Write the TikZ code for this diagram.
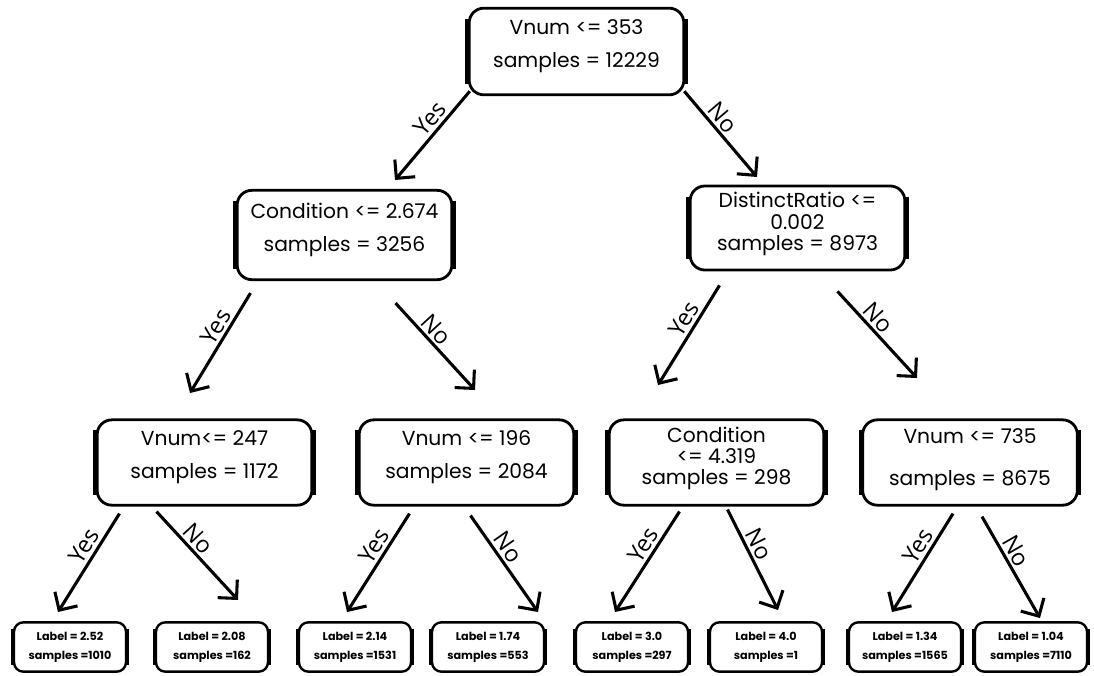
\documentclass[tikz,border=0pt]{standalone}
\usepackage{fontspec}
\setmainfont{Poppins}
\newfontfamily\edgefont{Open Sans}
\usetikzlibrary{arrows.meta}

\begin{document}
\begin{tikzpicture}[x=0.75pt, y=-0.75pt]
\tikzstyle{v} = [draw=black, line width=2.1pt, rounded corners=11pt, align=center, minimum width=161pt, minimum height=64pt, font=\fontsize{15.2}{16}\selectfont]
\tikzstyle{leaf} = [v, line width=1.8pt, rounded corners=7pt, minimum width=84pt, minimum height=37pt, font=\fontsize{8.4}{10}\selectfont\bfseries]
\tikzstyle{e} = [draw=black, line width=2.3pt, -{Straight Barb[length=10pt, width=20pt]}]
\tikzstyle{ans} = [sloped, above, pos=0.4, inner sep=2pt, font=\edgefont\fontsize{17.5}{18}\selectfont]

\useasboundingbox (0,0) rectangle (1094,675);

\node[v, minimum height=65pt] (root) at (576.5, 51.5) {Vnum <= 353\\[9pt]samples = 12229\\[-4pt]};
\node[v, minimum height=67pt] (cond) at (344.5, 235) {Condition <= 2.674\\[9pt]samples = 3256\\[-4pt]};
\node[v, minimum height=63pt] (dist) at (797.5, 228) {DistinctRatio <=\\0.002\\samples = 8973\\[-6pt]};
\node[v] (v247) at (204.5, 462.5) {Vnum<= 247\\[9pt]samples = 1172\\[-4pt]};
\node[v] (v196) at (466.5, 462.5) {Vnum <= 196\\[9pt]samples = 2084\\[-4pt]};
\node[v] (c4319) at (716.5, 462.5) {Condition\\<= 4.319\\samples = 298\\[-6pt]};
\node[v] (v735) at (970, 462.5) {Vnum <= 735\\[16pt]samples = 8675\\[-8pt]};

\node[leaf] (l1) at (70, 647) {Label = 2.52\\[4pt]samples =1010};
\node[leaf] (l2) at (212, 647) {Label = 2.08\\[4pt]samples =162};
\node[leaf] (l3) at (355, 647) {Label = 2.14\\[4pt]samples =1531};
\node[leaf] (l4) at (488, 647) {Label = 1.74\\[4pt]samples =553};
\node[leaf] (l5) at (632, 647) {Label = 3.0\\[4pt]samples =297};
\node[leaf] (l6) at (766, 647) {Label = 4.0\\[4pt]samples =1};
\node[leaf] (l7) at (905, 647) {Label = 1.34\\[4pt]samples =1565};
\node[leaf] (l8) at (1031, 647) {Label = 1.04\\[4pt]samples =7110};

% heavier sides of the boxes
\foreach \n in {root, cond, dist, v247, v196, c4319, v735} {
  \draw[line width=3.6pt] ([yshift=-9pt]\n.north west) -- ([yshift=9pt]\n.south west);
  \draw[line width=3.6pt] ([yshift=-9pt]\n.north east) -- ([yshift=9pt]\n.south east);
}
\foreach \n in {l1, l2, l3, l4, l5, l6, l7, l8} {
  \draw[line width=3pt] ([yshift=-6pt]\n.north west) -- ([yshift=6pt]\n.south west);
  \draw[line width=3pt] ([yshift=-6pt]\n.north east) -- ([yshift=6pt]\n.south east);
}

% arrow tips
\coordinate (ta) at (395, 180);
\coordinate (tb) at (757, 177);
\coordinate (tc) at (190, 393);
\coordinate (td) at (475, 390);
\coordinate (te) at (658, 385);
\coordinate (tf) at (917, 378);
\coordinate (t1) at (58, 612);
\coordinate (t2) at (238, 600);
\coordinate (t3) at (347, 612);
\coordinate (t4) at (538, 612);
\coordinate (t5) at (615, 612);
\coordinate (t6) at (778, 610);
\coordinate (t7) at (892, 612);
\coordinate (t8) at (1040, 618);

\draw[e] ([shift={(2,-5)}]root.south west) to node[ans] {Yes} (ta);
\draw[e] ([shift={(-1,-5)}]root.south east) to node[ans] {No} (tb);
\draw[e] ([shift={(-94,12)}]cond.south) to node[ans] {Yes} (tc);
\draw[e] ([shift={(51,22)}]cond.south) to node[ans] {No} (td);
\draw[e] ([shift={(-78,14)}]dist.south) to node[ans] {Yes} (te);
\draw[e] ([shift={(40,20)}]dist.south) to node[ans] {No} (tf);
\draw[e] ([shift={(-85,7)}]v247.south) to node[ans] {Yes} (t1);
\draw[e] ([shift={(-48,5)}]v247.south) to node[ans] {No} (t2);
\draw[e] ([shift={(-57,7)}]v196.south) to node[ans] {Yes} (t3);
\draw[e] ([shift={(4,9)}]v196.south) to node[ans] {No} (t4);
\draw[e] ([shift={(-37,5)}]c4319.south) to node[ans] {Yes} (t5);
\draw[e] ([shift={(11,3)}]c4319.south) to node[ans] {No} (t6);
\draw[e] ([shift={(-17,7)}]v735.south) to node[ans] {Yes} (t7);
\draw[e] ([shift={(12,10)}]v735.south) to node[ans] {No} (t8);
\end{tikzpicture}
\end{document}
